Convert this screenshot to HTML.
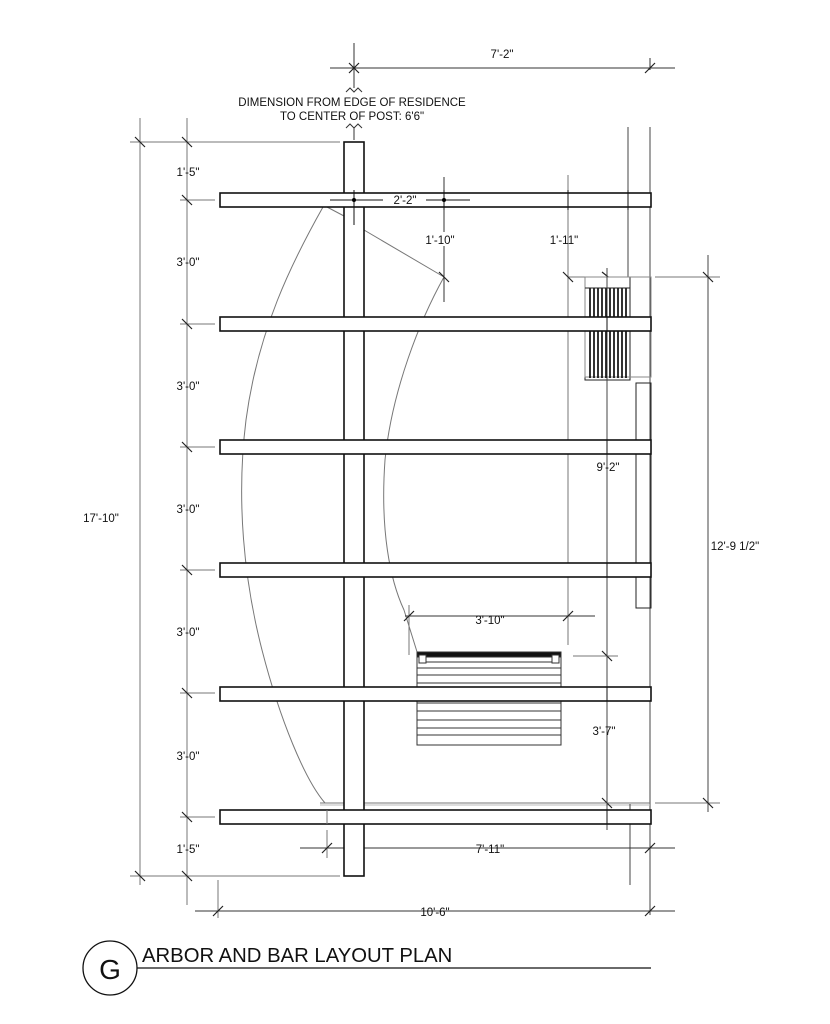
<!DOCTYPE html>
<html><head><style>
html,body{margin:0;padding:0;background:#fff;}
svg{display:block;}
text{font-family:"Liberation Sans",sans-serif;fill:#111;}
</style></head><body>
<svg width="830" height="1024" viewBox="0 0 830 1024" xmlns="http://www.w3.org/2000/svg">
<g fill="none" stroke="#777" stroke-width="1">
<path d="M323,207 C292,262 258,330 246,420 C236,500 244,580 262,650 C280,720 305,780 325,803"/>
<path d="M327,207 L344,216"/>
<path d="M364,230 L444,277"/>
<path d="M444,277 C420,320 392,390 385,460 C380,530 390,580 404,610 L418,655"/>
<line x1="628" y1="127" x2="628" y2="277" stroke="#444"/>
<line x1="650" y1="127" x2="650" y2="915" stroke="#444"/>
<line x1="568" y1="175" x2="568" y2="645"/>
<line x1="444" y1="177" x2="444" y2="302" stroke="#333"/>
<line x1="708" y1="255" x2="708" y2="812" stroke="#444"/>
<line x1="568" y1="277" x2="651" y2="277"/>
<line x1="655" y1="277" x2="720" y2="277"/>
<line x1="655" y1="803" x2="720" y2="803"/>
<line x1="320" y1="803" x2="650" y2="803"/>
<line x1="320" y1="805" x2="650" y2="805" stroke="#bbb"/>
<line x1="630" y1="804" x2="630" y2="885" stroke="#444"/>
<line x1="573" y1="656" x2="618" y2="656"/>
<line x1="140" y1="118" x2="140" y2="885"/>
<line x1="187" y1="118" x2="187" y2="905"/>
<line x1="130" y1="142" x2="340" y2="142"/>
<line x1="130" y1="876" x2="340" y2="876"/>
<line x1="180" y1="200" x2="215" y2="200"/>
<line x1="180" y1="324" x2="215" y2="324"/>
<line x1="180" y1="447" x2="215" y2="447"/>
<line x1="180" y1="570" x2="215" y2="570"/>
<line x1="180" y1="693" x2="215" y2="693"/>
<line x1="180" y1="817" x2="215" y2="817"/>
<line x1="330" y1="68" x2="675" y2="68" stroke="#333"/>
<line x1="354" y1="43" x2="354" y2="88" stroke="#333"/>
<polyline points="346,92 350,88 354,92 358,88 362,92" stroke="#333" fill="none"/>
<polyline points="346,128 350,124 354,128 358,124 362,128" stroke="#333" fill="none"/>
<line x1="354" y1="128" x2="354" y2="140" stroke="#333"/>
<line x1="650" y1="58" x2="650" y2="70" stroke="#333"/>
<line x1="300" y1="848" x2="675" y2="848" stroke="#333"/>
<line x1="327" y1="830" x2="327" y2="858"/>
<line x1="195" y1="911" x2="675" y2="911" stroke="#333"/>
<line x1="218" y1="880" x2="218" y2="918"/>
<line x1="405" y1="616" x2="595" y2="616" stroke="#333"/>
<line x1="409" y1="605" x2="409" y2="655"/>
</g>
<g stroke="#222" stroke-width="1.2">
<path d="M135,137l10,10M182,137l10,10M135,871l10,10M182,871l10,10M182,195l10,10M182,319l10,10M182,442l10,10M182,565l10,10M182,688l10,10M182,812l10,10"/>
<path d="M645,73l10,-10M563,195l10,10M563,272l10,10M439,272l10,10M703,272l10,10M703,798l10,10M602,651l10,10M602,798l10,10M322,853l10,-10M645,853l10,-10M213,916l10,-10M645,916l10,-10M404,621l10,-10M563,621l10,-10"/>
<path d="M349,63l10,10M349,73l10,-10M349,195l10,10M349,205l10,-10M439,195l10,10M439,205l10,-10M602,272l10,8"/>
</g>
<g stroke="#222" fill="none">
<rect x="585" y="277" width="45" height="103" fill="#fff"/>
<rect x="585" y="277" width="66" height="100" stroke="#888"/>
<g stroke="#000" stroke-width="1.6">
<path d="M590,288V378M594,288V378M598,288V378M602,288V378M606,288V378M610,288V378M614,288V378M618,288V378M622,288V378M626,288V378"/>
</g>
<line x1="585" y1="288" x2="630" y2="288"/>
<rect x="636" y="383" width="15" height="225"/>
</g>
<line x1="607" y1="268" x2="607" y2="830" stroke="#444"/>
<g stroke="#333" fill="#fff" stroke-width="1">
<rect x="417" y="652" width="144" height="93"/>
<rect x="417" y="652" width="144" height="5" fill="#111"/>
<rect x="419" y="655" width="7" height="8"/>
<rect x="552" y="655" width="7" height="8"/>
<path d="M426,662H552M417,668H561M417,675H561M417,683H561M417,703H561M417,711H561M417,720H561M417,728H561M417,735H561" fill="none"/>
</g>
<g stroke="#111" stroke-width="1.6" fill="#fff">
<rect x="344" y="142" width="20" height="734"/>
<rect x="220" y="193" width="431" height="14"/>
<rect x="220" y="317" width="431" height="14"/>
<rect x="220" y="440" width="431" height="14"/>
<rect x="220" y="563" width="431" height="14"/>
<rect x="220" y="687" width="431" height="14"/>
<rect x="220" y="810" width="431" height="14"/>
</g>
<g stroke="#111" stroke-width="1" fill="none">
<line x1="330" y1="200" x2="470" y2="200"/>
<line x1="354" y1="190" x2="354" y2="225"/>
<line x1="444" y1="190" x2="444" y2="210"/>
<line x1="568" y1="190" x2="568" y2="210"/>
<line x1="628" y1="190" x2="628" y2="210"/>
<line x1="607" y1="317" x2="607" y2="331"/>
<line x1="607" y1="440" x2="607" y2="454"/>
<line x1="607" y1="563" x2="607" y2="577"/>
<line x1="607" y1="687" x2="607" y2="701"/>
<line x1="607" y1="810" x2="607" y2="824"/>
<line x1="327" y1="810" x2="327" y2="824" stroke="#777"/>
</g>
<circle cx="354" cy="200" r="2" fill="#000"/>
<circle cx="444" cy="200" r="2" fill="#000"/>
<rect x="383" y="194" width="43" height="12" fill="#fff"/>
<g font-size="11.5" text-anchor="middle">
<text x="502" y="58">7'-2"</text>
<text x="352" y="106">DIMENSION FROM EDGE OF RESIDENCE</text>
<text x="352" y="120">TO CENTER OF POST: 6'6"</text>
<text x="405" y="204">2'-2"</text>
<rect x="424" y="232" width="34" height="14" fill="#fff"/>
<text x="440" y="244">1'-10"</text>
<text x="564" y="244">1'-11"</text>
<text x="188" y="176">1'-5"</text>
<text x="188" y="266">3'-0"</text>
<text x="188" y="390">3'-0"</text>
<text x="188" y="513">3'-0"</text>
<text x="188" y="636">3'-0"</text>
<text x="188" y="760">3'-0"</text>
<text x="188" y="853">1'-5"</text>
<text x="101" y="522">17'-10"</text>
<text x="608" y="471">9'-2"</text>
<text x="735" y="550">12'-9 1/2"</text>
<text x="490" y="624">3'-10"</text>
<text x="604" y="735">3'-7"</text>
<text x="490" y="853">7'-11"</text>
<text x="435" y="916">10'-6"</text>
</g>
<circle cx="110" cy="968" r="27" fill="none" stroke="#111" stroke-width="1.3"/>
<text x="110" y="979" font-size="28" text-anchor="middle">G</text>
<text x="142" y="962" font-size="20.3">ARBOR AND BAR LAYOUT PLAN</text>
<line x1="137" y1="968" x2="651" y2="968" stroke="#111" stroke-width="1.3"/>
</svg>
</body></html>
